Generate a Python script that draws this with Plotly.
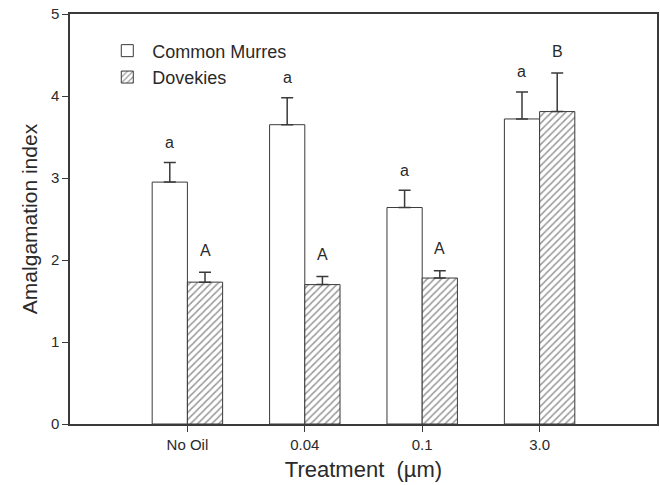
import plotly.graph_objects as go

categories = ["No Oil", "0.04", "0.1", "3.0"]
murres = [2.95, 3.65, 2.64, 3.72]
murres_se = [0.24, 0.33, 0.21, 0.33]
dovekies = [1.73, 1.70, 1.78, 3.81]
dovekies_se = [0.12, 0.10, 0.09, 0.47]
murres_letters = ["a", "a", "a", "a"]
dovekies_letters = ["A", "A", "A", "B"]

pos = [1, 2, 3, 4]
off = 0.15
FONT = "Arial, Liberation Sans, sans-serif"
LINE = "#3a3a3a"
TXT = "#2a2a2a"

fig = go.Figure()
fig.add_trace(go.Bar(
    x=[p - off for p in pos], y=murres, width=0.3, name="Common Murres",
    marker=dict(color="white", line=dict(color=LINE, width=1)),
    error_y=dict(type="data", array=murres_se, arrayminus=[0]*4, symmetric=False,
                 color=LINE, thickness=1.5, width=6),
))
fig.add_trace(go.Bar(
    x=[p + off for p in pos], y=dovekies, width=0.3, name="Dovekies",
    marker=dict(color="white", line=dict(color=LINE, width=1),
                pattern=dict(shape="/", fgcolor="#333333", size=5, solidity=0.3)),
    error_y=dict(type="data", array=dovekies_se, arrayminus=[0]*4, symmetric=False,
                 color=LINE, thickness=1.5, width=6),
))

for p, v, e, t in zip(pos, murres, murres_se, murres_letters):
    fig.add_annotation(x=p - off, y=v + e, text=t, showarrow=False, yshift=20,
                       font=dict(size=16, color=TXT, family=FONT))
for p, v, e, t in zip(pos, dovekies, dovekies_se, dovekies_letters):
    fig.add_annotation(x=p + off, y=v + e, text=t, showarrow=False, yshift=22,
                       font=dict(size=16, color=TXT, family=FONT))

fig.update_layout(
    width=660, height=485,
    margin=dict(l=70, r=3, t=14, b=61),
    paper_bgcolor="white", plot_bgcolor="white",
    font=dict(family=FONT, color=TXT),
    barmode="overlay",
    showlegend=True,
    legend=dict(x=0.055, y=0.955, xanchor="left", yanchor="top",
                bgcolor="rgba(0,0,0,0)", font=dict(size=18, family=FONT, color=TXT),
                itemwidth=40, tracegroupgap=0),
    xaxis=dict(range=[0, 5], tickvals=pos, ticktext=categories,
               showline=True, linecolor=LINE, linewidth=1.5, mirror=True,
               ticks="outside", ticklen=6, tickcolor=LINE, automargin=False,
               showgrid=False, zeroline=False,
               tickfont=dict(size=15, family=FONT, color=TXT),
               title=dict(text="Treatment\u00a0\u00a0(µm)", font=dict(size=22, family=FONT, color=TXT), standoff=10)),
    yaxis=dict(range=[0, 5], tickvals=[0, 1, 2, 3, 4, 5],
               showline=True, linecolor=LINE, linewidth=1.5, mirror=True,
               ticks="outside", ticklen=6, tickcolor=LINE, automargin=False,
               showgrid=False, zeroline=False,
               tickfont=dict(size=15, family=FONT, color=TXT),
               title=dict(text="Amalgamation index", font=dict(size=21, family=FONT, color=TXT), standoff=8)),
)

fig.write_html("out.html", config={"displayModeBar": False},
               post_script="document.body.style.margin='0';document.body.style.overflow='hidden';")
